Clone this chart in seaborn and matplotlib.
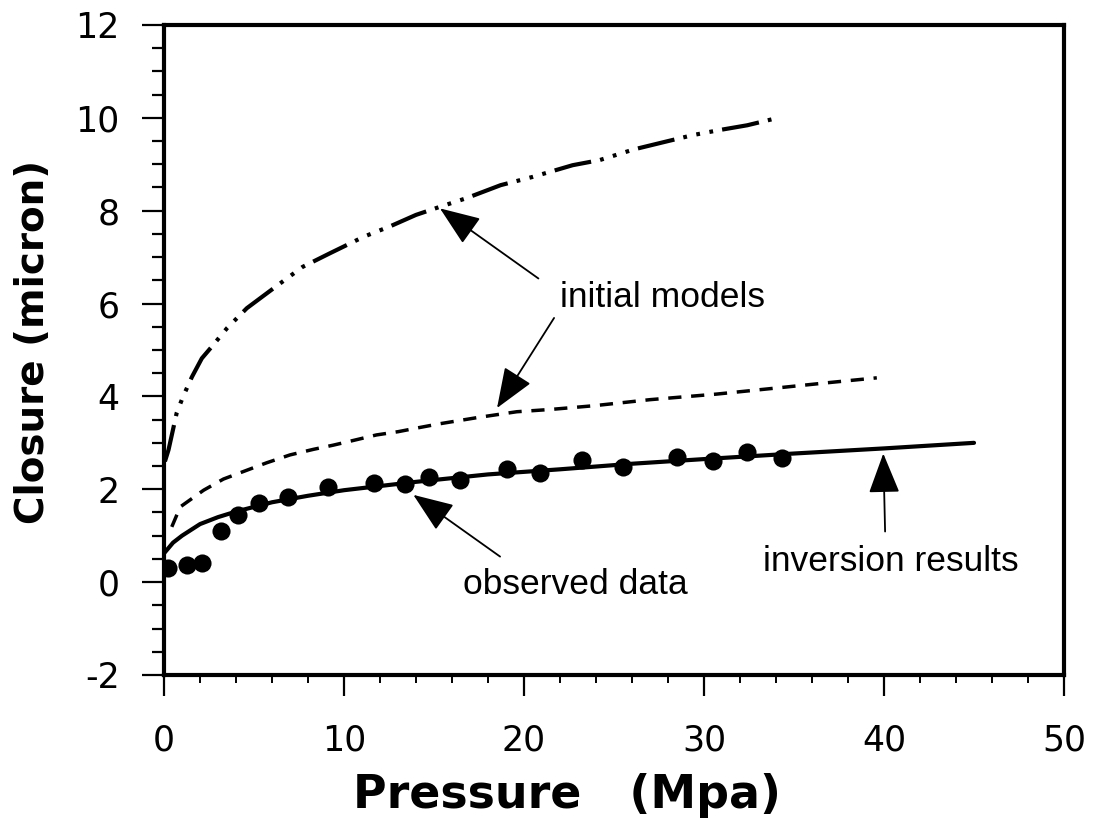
import numpy as np
import pandas as pd
import matplotlib
matplotlib.use("Agg")
import matplotlib.pyplot as plt
import seaborn as sns
from matplotlib.ticker import MultipleLocator

# observed closure data (pressure in MPa, closure in micron)
obs_p = [0.24, 1.26, 2.09, 3.15, 4.13, 5.29, 6.91, 9.09, 11.68, 13.39, 14.74, 16.44,
         19.04, 20.89, 23.21, 25.52, 28.48, 30.48, 32.37, 34.32]
obs_c = [0.30, 0.37, 0.42, 1.11, 1.45, 1.71, 1.83, 2.04, 2.14, 2.11, 2.27, 2.21,
         2.43, 2.34, 2.63, 2.47, 2.70, 2.61, 2.81, 2.68]

# inversion result (solid)
inv_p = [0, 0.5, 1, 2, 3, 4, 6, 8, 10, 14, 18, 22, 26, 30, 35, 40, 45]
inv_c = [0.62, 0.85, 1.0, 1.25, 1.40, 1.52, 1.72, 1.86, 1.98, 2.16, 2.32, 2.43,
         2.55, 2.65, 2.77, 2.88, 3.0]

# initial model 1 (dash-dot-dot)
m1_p = [0.05, 0.25, 0.45, 0.7, 1.05, 1.55, 2.1, 2.65, 3.5, 4.6, 6.4, 7.7, 9.2, 11.1,
        12.6, 14.0, 15.3, 16.8, 18.7, 20.5, 22.7, 24.2, 26.1, 27.9, 29.4, 30.9, 32.4, 34.0]
m1_c = [2.6, 2.85, 3.2, 3.64, 3.99, 4.42, 4.82, 5.07, 5.47, 5.9, 6.42, 6.79, 7.08, 7.44,
        7.67, 7.91, 8.08, 8.27, 8.55, 8.73, 8.98, 9.09, 9.32, 9.49, 9.63, 9.74, 9.84, 9.99]

# initial model 2 (dashed)
m2_p = [0.43, 0.9, 2.2, 3.3, 4.6, 5.7, 7.0, 8.3, 9.4, 10.5, 11.8, 13.0, 14.2, 15.3,
        17.5, 19.6, 21.5, 23.9, 27.0, 30.7, 34.0, 37.0, 39.6]
m2_c = [1.19, 1.62, 1.98, 2.22, 2.41, 2.57, 2.74, 2.86, 2.95, 3.05, 3.17, 3.24, 3.33, 3.41,
        3.55, 3.67, 3.72, 3.80, 3.93, 4.05, 4.18, 4.30, 4.40]

sns.set_style("ticks")
plt.rcParams['font.family'] = ['DejaVu Sans']
plt.rcParams['axes.unicode_minus'] = False
for k in ['text.color', 'axes.labelcolor', 'xtick.color', 'ytick.color', 'axes.edgecolor']:
    plt.rcParams[k] = 'black'

fig = plt.figure(figsize=(10.95, 8.33), dpi=100)
ax = fig.add_axes([0.1498, 0.1897, 0.9717 - 0.1498, 0.970 - 0.1897])

m1 = pd.DataFrame({'p': m1_p, 'c': m1_c})
m2 = pd.DataFrame({'p': m2_p, 'c': m2_c})
inv = pd.DataFrame({'p': inv_p, 'c': inv_c})
obs = pd.DataFrame({'p': obs_p, 'c': obs_c})

sns.lineplot(data=m1, x='p', y='c', sort=False, estimator=None, color='black', lw=3,
             linestyle=(0, (9, 2.2, 0.9, 2.3, 0.9, 2.3, 0.9, 2.2)), ax=ax)
sns.lineplot(data=m2, x='p', y='c', sort=False, estimator=None, color='black', lw=2.5,
             linestyle=(0, (3.8, 2.8)), ax=ax)
sns.lineplot(data=inv, x='p', y='c', sort=False, estimator=None, color='black', lw=3, ax=ax)
sns.scatterplot(data=obs, x='p', y='c', color='black', s=170, edgecolor='black', linewidth=0,
                zorder=3, ax=ax)

arrow = dict(arrowstyle='-|>,head_length=0.9,head_width=0.35', color='black', lw=1.3,
             mutation_scale=28, shrinkA=0, shrinkB=0)
ann = dict(fontsize=25.5, family=['Liberation Sans', 'DejaVu Sans'], ha='left', va='center')
ax.text(22.0, 6.12, 'initial models', **ann)
ax.annotate('', xy=(15.33, 8.05), xytext=(20.8, 6.54), arrowprops=arrow)
ax.annotate('', xy=(18.5, 3.75), xytext=(21.67, 5.69), arrowprops=arrow)
ax.text(16.6, -0.05, 'observed data', **ann)
ax.annotate('', xy=(13.85, 1.88), xytext=(18.67, 0.55), arrowprops=arrow)
ax.text(33.3, 0.45, 'inversion results', **ann)
ax.annotate('', xy=(39.96, 2.77), xytext=(40.06, 1.09), arrowprops=arrow)

ax.set_xlim(0, 50)
ax.set_ylim(-2, 12)
ax.xaxis.set_major_locator(MultipleLocator(10))
ax.xaxis.set_minor_locator(MultipleLocator(2))
ax.yaxis.set_major_locator(MultipleLocator(2))
ax.yaxis.set_minor_locator(MultipleLocator(0.5))
ax.tick_params(axis='both', which='major', direction='out', width=1.6, labelsize=25)
ax.tick_params(axis='x', which='major', length=15, pad=20)
ax.tick_params(axis='x', which='minor', direction='out', length=6, width=1.4)
ax.tick_params(axis='y', which='major', length=16, pad=16)
ax.tick_params(axis='y', which='minor', direction='out', length=9, width=1.6)

for side in ['left', 'right', 'top', 'bottom']:
    ax.spines[side].set_visible(True)
    ax.spines[side].set_linewidth(3)
    ax.spines[side].set_color('black')

ax.set_xlabel('Pressure   (Mpa)', fontsize=33, fontweight='bold')
ax.set_ylabel('Closure (micron)', fontsize=28, fontweight='bold')
ax.xaxis.set_label_coords(0.448, -0.185)
ax.xaxis.label.set_va('center')
ax.yaxis.set_label_coords(-0.146, 0.512)
ax.yaxis.label.set_va('center')

fig.savefig('out.png', dpi=100)
